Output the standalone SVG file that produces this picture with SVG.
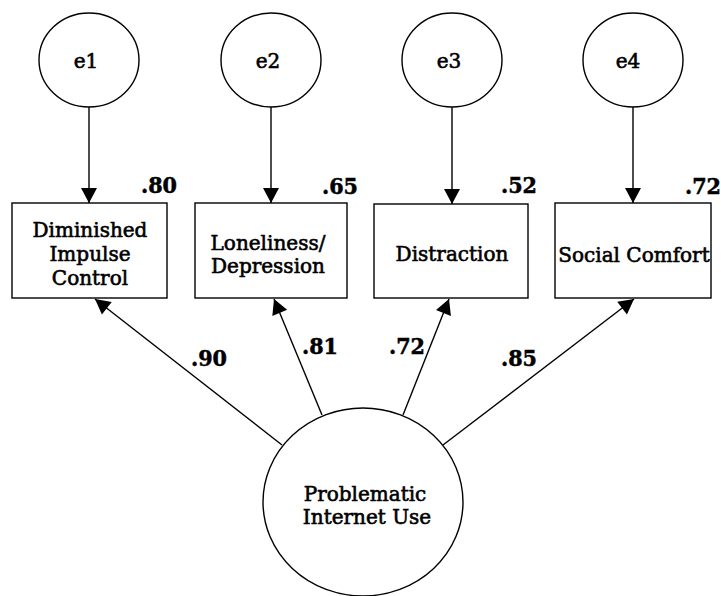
<svg xmlns="http://www.w3.org/2000/svg" width="721" height="596" viewBox="0 0 721 596">
<defs>
<marker id="ah" markerUnits="userSpaceOnUse" markerWidth="20" markerHeight="20" viewBox="-16 -10 20 20" refX="0" refY="0" orient="auto">
<path d="M0,0 L-15,-8 L-15,8 Z" fill="#000"/>
</marker>
</defs>
<style>
.shape{fill:#fff;stroke:#000;stroke-width:1.4}
.lbl{font-family:"DejaVu Serif",serif;font-weight:normal;font-size:20px;fill:#000;text-anchor:middle;stroke:#000;stroke-width:0.6}
.num{font-family:"DejaVu Serif Condensed","DejaVu Serif",serif;font-stretch:condensed;font-weight:bold;font-size:23px;fill:#000;stroke:#000;stroke-width:0.5}
.edge{stroke:#000;stroke-width:1.4;fill:none;marker-end:url(#ah)}
</style>
<rect width="721" height="596" fill="#fff"/>
<g id="connectors">
<line class="edge" x1="89" y1="107" x2="89" y2="203"/>
<line class="edge" x1="271" y1="107" x2="271" y2="203"/>
<line class="edge" x1="452" y1="107" x2="452" y2="204"/>
<line class="edge" x1="633" y1="107" x2="633" y2="203"/>
<line class="edge" x1="282" y1="445" x2="95" y2="299"/>
<line class="edge" x1="322" y1="415" x2="274" y2="299"/>
<line class="edge" x1="403" y1="415" x2="449" y2="299"/>
<line class="edge" x1="443" y1="445" x2="634" y2="299"/>
</g>
<g id="e1"><ellipse class="shape" cx="89" cy="60" rx="50" ry="47"/><text class="lbl" x="86" y="68">e1</text></g>
<g id="e2"><ellipse class="shape" cx="271" cy="60" rx="50" ry="47"/><text class="lbl" x="268" y="68">e2</text></g>
<g id="e3"><ellipse class="shape" cx="452" cy="60" rx="50" ry="47"/><text class="lbl" x="449" y="68">e3</text></g>
<g id="e4"><ellipse class="shape" cx="633" cy="60" rx="50" ry="47"/><text class="lbl" x="628" y="68">e4</text></g>
<g id="dic">
<rect class="shape" x="12" y="203" width="155" height="95"/>
<text class="lbl" x="90" y="237">Diminished</text>
<text class="lbl" x="90" y="261">Impulse</text>
<text class="lbl" x="90" y="285">Control</text>
<text class="num" x="141" y="193">.80</text>
</g>
<g id="ld">
<rect class="shape" x="195" y="203" width="152" height="95"/>
<text class="lbl" x="268" y="250">Loneliness/</text>
<text class="lbl" x="268" y="273">Depression</text>
<text class="num" x="322" y="194">.65</text>
</g>
<g id="dist">
<rect class="shape" x="374" y="204" width="154" height="94"/>
<text class="lbl" x="452" y="261">Distraction</text>
<text class="num" x="501" y="193">.52</text>
</g>
<g id="sc">
<rect class="shape" x="555" y="203" width="156" height="95"/>
<text class="lbl" x="634" y="262">Social Comfort</text>
<text class="num" x="685" y="194">.72</text>
</g>
<g id="piu">
<ellipse class="shape" cx="363" cy="502" rx="100" ry="94"/>
<text class="lbl" x="365" y="501">Problematic</text>
<text class="lbl" x="367" y="524">Internet Use</text>
</g>
<g id="weights">
<text class="num" x="191" y="366">.90</text>
<text class="num" x="302" y="354">.81</text>
<text class="num" x="389" y="354">.72</text>
<text class="num" x="501" y="366">.85</text>
</g>
</svg>
